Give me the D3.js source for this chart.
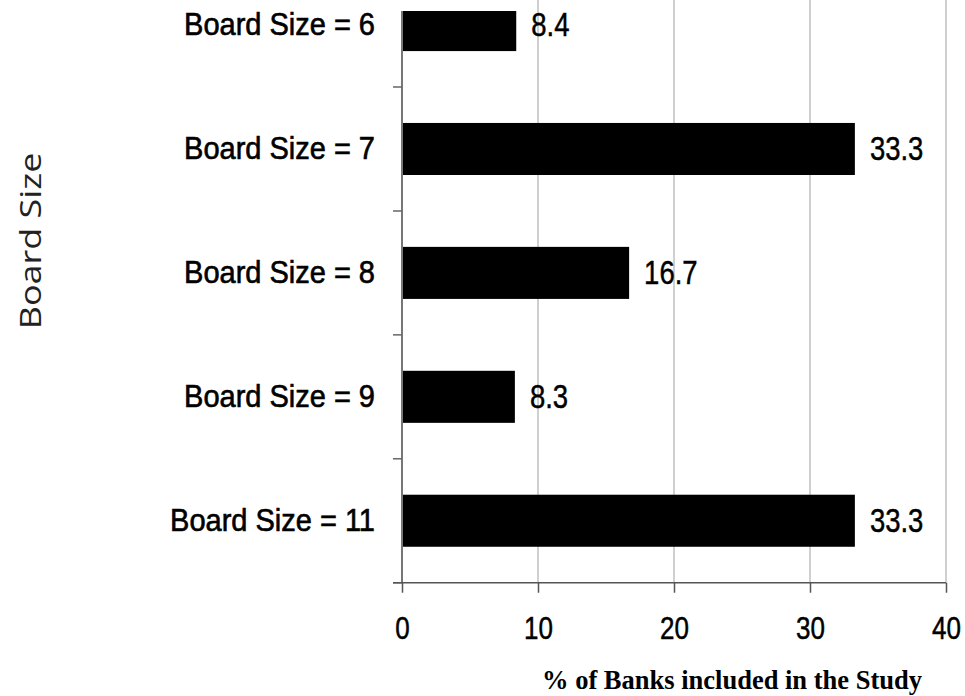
<!DOCTYPE html>
<html>
<head>
<meta charset="utf-8">
<script src="https://cdn.jsdelivr.net/npm/d3@7"></script>
<style>
  html, body { margin: 0; padding: 0; background: #fff; }
  svg { display: block; }
</style>
</head>
<body>
<svg id="chart" width="965" height="696"></svg>
<script>
// Share of banks by board size
const categories = ["Board Size = 6", "Board Size = 7", "Board Size = 8", "Board Size = 9", "Board Size = 11"];
const values = [8.4, 33.3, 16.7, 8.3, 33.3];
const xTicks = [0, 10, 20, 30, 40];
const xTitle = "% of Banks included in the Study";
const yTitle = "Board Size";

const svg = d3.select("#chart");

const x = d3.scaleLinear().domain([0, 40]).range([402, 946]);
const y = d3.scaleBand()
  .domain(categories)
  .range([-36.9, 582.7])
  .paddingInner(0.58)
  .paddingOuter(0.29);

const plotTop = 11, plotBottom = y.range()[1];

svg.append("defs").append("clipPath").attr("id", "plotClip")
  .append("rect")
  .attr("x", x(0) - 12).attr("y", plotTop)
  .attr("width", x(40) - x(0) + 14).attr("height", plotBottom - plotTop + 20);

// vertical gridlines
svg.append("g")
  .selectAll("line")
  .data(xTicks.filter(d => d > 0))
  .join("line")
  .attr("x1", d => x(d)).attr("x2", d => x(d))
  .attr("y1", 0).attr("y2", plotBottom)
  .attr("stroke", "#a0a0a0")
  .attr("stroke-width", 1);

const plot = svg.append("g").attr("clip-path", "url(#plotClip)");

// bars
plot.selectAll("rect.bar")
  .data(values)
  .join("rect")
  .attr("class", "bar")
  .attr("x", x(0))
  .attr("y", (d, i) => y(categories[i]))
  .attr("width", d => x(d) - x(0))
  .attr("height", y.bandwidth())
  .attr("fill", "#000");

// category axis: line and boundary ticks between bands
const step = y.step();
const bounds = categories.map((c, i) => y.range()[0] + step * (i + 1));
plot.append("line")
  .attr("x1", x(0)).attr("x2", x(0))
  .attr("y1", y.range()[0]).attr("y2", plotBottom)
  .attr("stroke", "#777").attr("stroke-width", 2);
plot.selectAll("line.ytick")
  .data(bounds)
  .join("line")
  .attr("class", "ytick")
  .attr("x1", x(0) - 9).attr("x2", x(0))
  .attr("y1", d => d).attr("y2", d => d)
  .attr("stroke", "#666").attr("stroke-width", 1.5);

// value axis
const xAxis = d3.axisBottom(x).tickValues(xTicks).tickSize(10).tickSizeOuter(0).tickPadding(24);
const gx = svg.append("g").attr("transform", `translate(0,${plotBottom})`).call(xAxis);
gx.select(".domain").attr("stroke", "#555").attr("stroke-width", 1.5)
  .attr("d", `M${x(0) - 9},0H${x(40)}`);
gx.selectAll(".tick line").attr("stroke", "#555").attr("stroke-width", 1.5);
gx.selectAll(".tick text")
  .attr("fill", "#000")
  .attr("stroke", "#000").attr("stroke-width", 0.4)
  .style("font-family", "'Liberation Sans', Arial, sans-serif")
  .style("font-size", "26px")
  .attr("dy", null)
  .attr("y", 0)
  .attr("transform", "translate(0,56) scale(1,1.2)");

// category labels
svg.append("g")
  .selectAll("text")
  .data(categories)
  .join("text")
  .attr("text-anchor", "end")
  .attr("transform", d => `translate(375,${y(d) + y.bandwidth() / 2 + 10}) scale(1,1.1)`)
  .style("font-family", "'Liberation Sans', Arial, sans-serif")
  .style("font-size", "29px")
  .attr("fill", "#000")
  .attr("stroke", "#000").attr("stroke-width", 0.6)
  .text(d => d);

// value labels
svg.append("g")
  .selectAll("text")
  .data(values)
  .join("text")
  .attr("transform", (d, i) => `translate(${x(d) + 15},${y(categories[i]) + y.bandwidth() / 2 + 11}) scale(1,1.18)`)
  .style("font-family", "'Liberation Sans', Arial, sans-serif")
  .style("font-size", "27.5px")
  .attr("fill", "#000")
  .attr("stroke", "#000").attr("stroke-width", 0.4)
  .text(d => d.toFixed(1));

// axis titles
svg.append("text")
  .attr("transform", "translate(732,689)")
  .attr("text-anchor", "middle")
  .style("font-family", "'Liberation Serif', 'Times New Roman', serif")
  .style("font-weight", "bold")
  .style("font-size", "26.5px")
  .attr("fill", "#000")
  .text(xTitle);

svg.append("text")
  .attr("transform", "translate(41,241) rotate(-90) scale(1.24,1)")
  .attr("text-anchor", "middle")
  .style("font-family", "'Open Sans', sans-serif")
  .style("font-size", "29px")
  .attr("fill", "#222")
  .text(yTitle);
</script>
</body>
</html>
